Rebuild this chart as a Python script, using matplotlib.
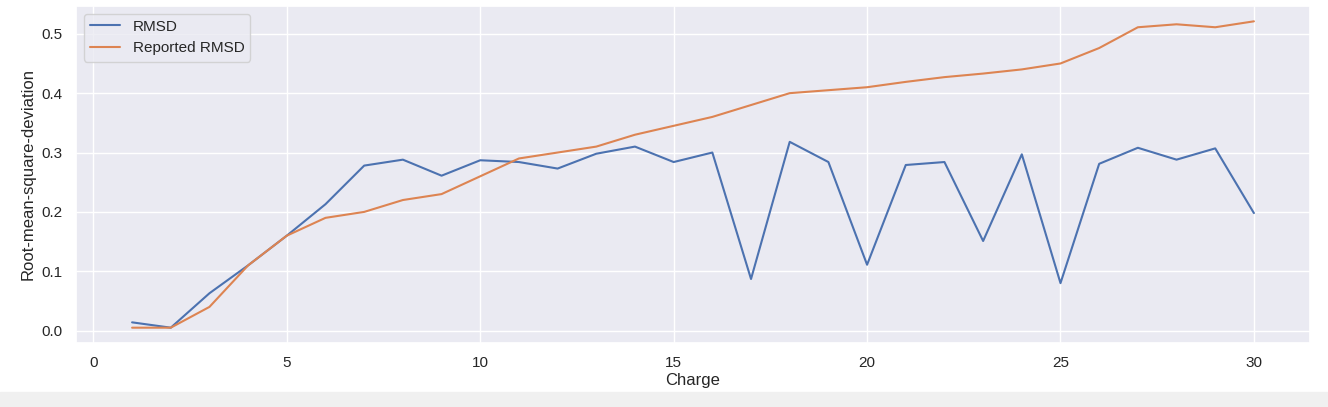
import numpy as np
import matplotlib
matplotlib.use('Agg')
import matplotlib.pyplot as plt
import seaborn as sns

charge = list(range(1, 31))
rmsd = [0.014, 0.005, 0.063, 0.110, 0.160, 0.213, 0.278, 0.288, 0.261, 0.287,
        0.284, 0.273, 0.298, 0.310, 0.284, 0.300, 0.087, 0.318, 0.284, 0.111,
        0.279, 0.284, 0.151, 0.297, 0.080, 0.281, 0.308, 0.288, 0.307, 0.198]
reported = [0.005, 0.005, 0.040, 0.110, 0.160, 0.190, 0.200, 0.220, 0.230, 0.260,
            0.290, 0.300, 0.310, 0.330, 0.345, 0.360, 0.380, 0.400, 0.405, 0.410,
            0.419, 0.427, 0.433, 0.440, 0.450, 0.476, 0.511, 0.516, 0.511, 0.521]

sns.set_theme()
plt.rcParams['font.family'] = ['Liberation Sans', 'DejaVu Sans']

fig = plt.figure(figsize=(13.28, 4.07), dpi=100)
ax = fig.add_axes([76/1328, 1-343/407, (1310-76)/1328, (343-6)/407])
ax.plot(charge, rmsd, label='RMSD')
ax.plot(charge, reported, label='Reported RMSD')
ax.set_xlabel('Charge', labelpad=2)
ax.set_ylabel('Root-mean-square-deviation')
ax.legend(loc='upper left')

# grey strip under the figure, as in the notebook screenshot
fig.patches.append(plt.Rectangle((0, 0), 1, 15/407, transform=fig.transFigure,
                                 color='#f0f0f0', zorder=-1))

fig.savefig('out.png', dpi=100)
